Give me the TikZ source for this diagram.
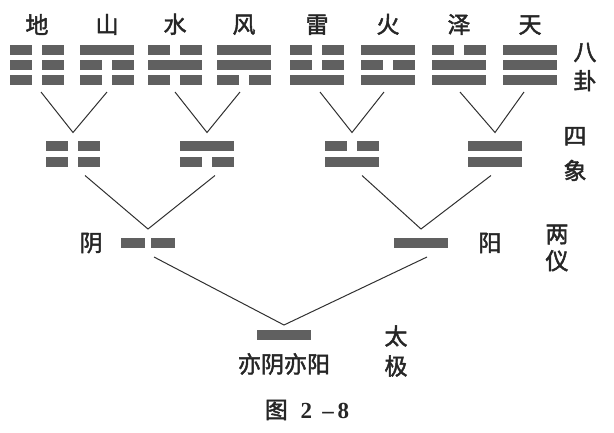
\documentclass[tikz,border=0pt]{standalone}
\usepackage{fontspec}
\setmainfont{Liberation Serif}
\newfontfamily\cjk[FakeBold=2]{Noto Sans CJK SC}
\usetikzlibrary{positioning, calc}
\definecolor{yaogray}{HTML}{606060}
\definecolor{linkgray}{HTML}{303030}

\begin{document}
\begin{tikzpicture}[
    x=1pt, y=-1pt,
    font=\cjk\fontsize{23}{23}\selectfont,
    yao/.style={fill=yaogray},
    link/.style={draw=linkgray, line width=1pt},
    gua/.style={minimum width=54pt, minimum height=40pt, inner sep=0pt, outer ysep=7pt},
    xiang/.style={minimum width=54pt, minimum height=26pt, inner sep=0pt, outer ysep=8.5pt},
    yi/.style={minimum width=54pt, minimum height=10pt, inner sep=0pt, outer ysep=9pt},
    lbl/.style={inner sep=0pt, text=black!85},
    vlbl/.style={lbl, align=center}
]
    \useasboundingbox (0,0) rectangle (614,432);

    % --- 1. 八卦 ---
    \foreach \nm/\cx/\ra/\rb/\rc in {di/37/0/0/0, shan/107/1/0/0, shui/175/0/1/0, feng/244/1/1/0,
                                     lei/317/0/0/1, huo/388/1/0/1, ze/459/0/1/1, tian/530/1/1/1} {
        \node [gua] (\nm) at (\cx, 65) {};
        \foreach \r/\t in {0/\ra, 1/\rb, 2/\rc} {
            \ifnum\t=1
                \fill [yao] (\cx-27, 45+15*\r) rectangle ++(54, 10);
            \else
                \fill [yao] (\cx-27, 45+15*\r) rectangle ++(22, 10);
                \fill [yao] (\cx+5, 45+15*\r) rectangle ++(22, 10);
            \fi
        }
    }

    % 卦名
    \foreach \nm/\lb in {di/地, shan/山, shui/水, feng/风, lei/雷, huo/火, ze/泽, tian/天}
        \node [lbl, above=3pt of \nm] {\lb};

    % --- 2. 四象 ---
    \foreach \nm/\cx/\ra/\rb in {taiyin/73/0/0, shaoyang/207/1/0, shaoyin/352/0/1, taiyang/495/1/1} {
        \node [xiang] (\nm) at (\cx, 154) {};
        \foreach \r/\t in {0/\ra, 1/\rb} {
            \ifnum\t=1
                \fill [yao] (\cx-27, 141+16*\r) rectangle ++(54, 10);
            \else
                \fill [yao] (\cx-27, 141+16*\r) rectangle ++(22, 10);
                \fill [yao] (\cx+5, 141+16*\r) rectangle ++(22, 10);
            \fi
        }
    }

    % --- 3. 两仪・太极 ---
    \node [yi] (yin) at (148, 243) {};
    \fill [yao] (121, 238) rectangle ++(24, 10);
    \fill [yao] (151, 238) rectangle ++(24, 10);

    \node [yi] (yang) at (421, 243) {};
    \fill [yao] (394, 238) rectangle ++(54, 10);

    \node [yi, outer ysep=5pt] (taiji) at (284, 335) {};
    \fill [yao] (257, 330) rectangle ++(54, 10);

    % --- 4. 连线 ---
    \foreach \a/\sa/\b/\c/\sc in {di/4/taiyin/shan/0, shui/0/shaoyang/feng/-4,
                                  lei/3/shaoyin/huo/-4, ze/1/taiyang/tian/-6,
                                  taiyin/12/yin/shaoyang/8, shaoyin/10/yang/taiyang/-4,
                                  yin/6/taiji/yang/6}
        \draw [link] ([xshift=\sa pt]\a.south) -- (\b.north) -- ([xshift=\sc pt]\c.south);

    % --- 5. 文字 ---
    \node [vlbl] at (585, 67)  {八\\[6pt]卦};
    \node [vlbl] at (575, 154) {四\\[12pt]象};
    \node [vlbl] at (557, 248) {两\\[4pt]仪};
    \node [vlbl] at (396, 351) {太\\[7pt]极};

    \node [lbl, left=18pt of yin]   {阴};
    \node [lbl, right=30pt of yang] {阳};
    \node [lbl, below=8pt of taiji] {亦阴亦阳};

    \node [lbl] at (307, 410) {图\;\;{\rmfamily\bfseries 2\;\,–\,8}};

\end{tikzpicture}
\end{document}
